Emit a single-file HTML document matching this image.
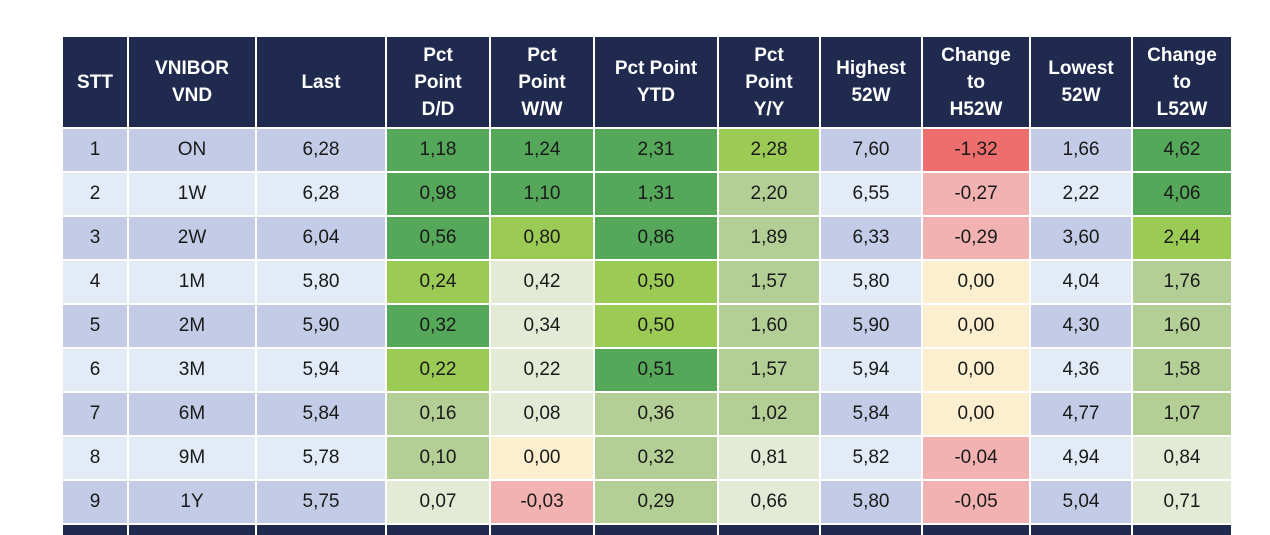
<!DOCTYPE html>
<html><head><meta charset="utf-8"><style>
body{margin:0;width:1270px;height:530px;background:#fff;position:relative;overflow:hidden;font-family:"Liberation Sans",Arial,sans-serif}
.c{position:absolute;display:flex;align-items:center;justify-content:center;text-align:center;font-size:19px;color:#1a1a1a}
.h{background:#1f2a4e;color:#fff;font-weight:bold;font-size:19px;line-height:27px}
</style></head><body>
<div id="t"></div>
<script>
(function(){
var xs=[62,128,256,386,490,594,718,820,922,1030,1132,1232];
var hd=["STT","VNIBOR<br>VND","Last","Pct<br>Point<br>D/D","Pct<br>Point<br>W/W","Pct Point<br>YTD","Pct<br>Point<br>Y/Y","Highest<br>52W","Change<br>to<br>H52W","Lowest<br>52W","Change<br>to<br>L52W"];
var D="#55a85a",M="#9ccb55",S="#b3cf96",V="#e3ead6",Y="#fcefd0",R="#ee6e6e",LR="#f2b2b2",B="#c3cbe6",L="#e3ebf7";
var rows=[
["1","ON","6,28","1,18","1,24","2,31","2,28","7,60","-1,32","1,66","4,62"],
["2","1W","6,28","0,98","1,10","1,31","2,20","6,55","-0,27","2,22","4,06"],
["3","2W","6,04","0,56","0,80","0,86","1,89","6,33","-0,29","3,60","2,44"],
["4","1M","5,80","0,24","0,42","0,50","1,57","5,80","0,00","4,04","1,76"],
["5","2M","5,90","0,32","0,34","0,50","1,60","5,90","0,00","4,30","1,60"],
["6","3M","5,94","0,22","0,22","0,51","1,57","5,94","0,00","4,36","1,58"],
["7","6M","5,84","0,16","0,08","0,36","1,02","5,84","0,00","4,77","1,07"],
["8","9M","5,78","0,10","0,00","0,32","0,81","5,82","-0,04","4,94","0,84"],
["9","1Y","5,75","0,07","-0,03","0,29","0,66","5,80","-0,05","5,04","0,71"]];
var cols=[
[D,D,D,M,R,D],[D,D,D,S,LR,D],[D,M,D,S,LR,M],[M,V,M,S,Y,S],[D,V,M,S,Y,S],[M,V,D,S,Y,S],[S,V,S,S,Y,S],[S,Y,S,V,LR,V],[V,LR,S,V,LR,V]];
var h="";
for(var j=0;j<11;j++){h+='<div class="c h" style="left:'+(xs[j]+1)+'px;top:37px;width:'+(xs[j+1]-xs[j]-2)+'px;height:90px">'+hd[j]+'</div>';
h+='<div class="c h" style="left:'+(xs[j]+1)+'px;top:525px;width:'+(xs[j+1]-xs[j]-2)+'px;height:10px"></div>';}
for(var i=0;i<9;i++){var base=i%2==0?B:L;var ty=129+44*i;
for(var j=0;j<11;j++){var bg;
if(j<3||j==7||j==9)bg=base;else{var k={3:0,4:1,5:2,6:3,8:4,10:5}[j];bg=cols[i][k];}
h+='<div class="c" style="left:'+(xs[j]+1)+'px;top:'+ty+'px;width:'+(xs[j+1]-xs[j]-2)+'px;height:42px;background:'+bg+'">'+rows[i][j]+'</div>';}}
document.getElementById("t").innerHTML=h;
})();
</script>
</body></html>
